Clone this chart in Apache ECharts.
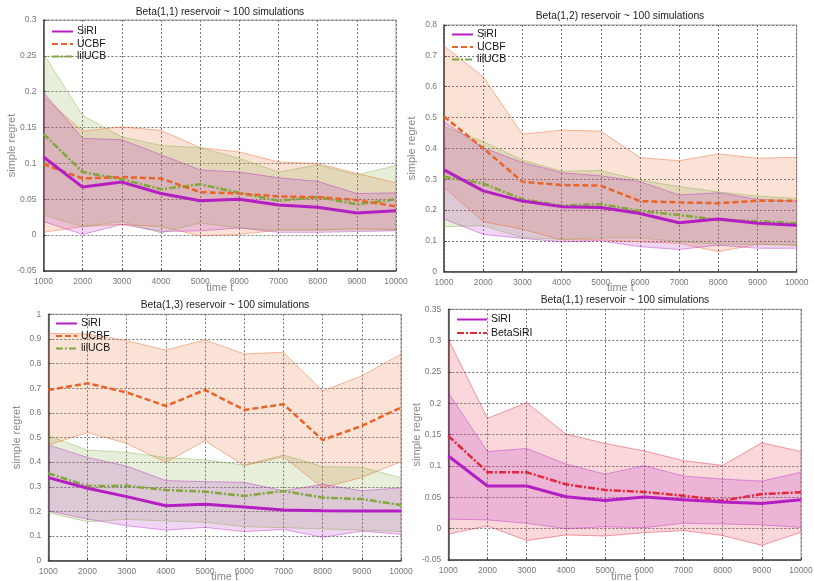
<!DOCTYPE html>
<html><head><meta charset="utf-8">
<script src="https://cdn.jsdelivr.net/npm/echarts@6/dist/echarts.min.js"></script>
<style>html,body{margin:0;padding:0;background:#fff}#c{width:814px;height:581px}</style>
</head><body><div id="c"></div>
<script>
const timeTicks = ['1000','2000','3000','4000','5000','6000','7000','8000','9000','10000'];

// Panel 1: Beta(1,1)
const p1_siri_mean = [0.109,0.067,0.074,0.058,0.048,0.050,0.042,0.039,0.031,0.034];
const p1_siri_hi   = [0.199,0.135,0.133,0.112,0.091,0.088,0.080,0.075,0.058,0.059];
const p1_siri_lo   = [0.019,0.001,0.015,0.005,0.006,0.010,0.004,0.004,0.005,0.006];
const p1_ucbf_mean = [0.099,0.079,0.081,0.079,0.060,0.058,0.054,0.053,0.049,0.040];
const p1_ucbf_hi   = [0.193,0.145,0.151,0.146,0.122,0.116,0.102,0.100,0.086,0.073];
const p1_ucbf_lo   = [0.004,0.012,0.015,0.012,-0.001,0.001,0.007,0.007,0.009,0.008];
const p1_lil_mean  = [0.141,0.088,0.078,0.064,0.071,0.059,0.048,0.053,0.043,0.050];
const p1_lil_hi    = [0.253,0.167,0.137,0.125,0.122,0.107,0.088,0.098,0.084,0.097];
const p1_lil_lo    = [0.028,0.012,0.019,0.003,0.017,0.010,0.007,0.007,0.007,0.007];

// Panel 2: Beta(1,2)
const p2_siri_mean = [0.330,0.262,0.229,0.211,0.208,0.189,0.159,0.171,0.157,0.151];
const p2_siri_hi   = [0.486,0.402,0.354,0.321,0.311,0.292,0.249,0.256,0.235,0.229];
const p2_siri_lo   = [0.171,0.121,0.108,0.097,0.100,0.081,0.072,0.086,0.076,0.076];
const p2_ucbf_mean = [0.503,0.400,0.292,0.281,0.279,0.229,0.225,0.222,0.230,0.230];
const p2_ucbf_hi   = [0.732,0.632,0.446,0.459,0.456,0.370,0.360,0.382,0.368,0.371];
const p2_ucbf_lo   = [0.274,0.162,0.138,0.103,0.103,0.097,0.092,0.065,0.089,0.086];
const p2_lil_mean  = [0.308,0.286,0.235,0.214,0.219,0.197,0.184,0.168,0.164,0.157];
const p2_lil_hi    = [0.470,0.422,0.362,0.326,0.328,0.297,0.276,0.259,0.245,0.238];
const p2_lil_lo    = [0.146,0.149,0.111,0.105,0.110,0.110,0.097,0.089,0.089,0.086];

// Panel 3: Beta(1,3)
const p3_siri_mean = [0.337,0.294,0.260,0.223,0.229,0.218,0.206,0.203,0.202,0.202];
const p3_siri_hi   = [0.470,0.419,0.384,0.325,0.321,0.318,0.284,0.310,0.284,0.296];
const p3_siri_lo   = [0.202,0.169,0.142,0.124,0.135,0.118,0.127,0.095,0.120,0.107];
const p3_ucbf_mean = [0.693,0.720,0.683,0.628,0.693,0.612,0.635,0.490,0.547,0.622];
const p3_ucbf_hi   = [0.923,0.920,0.893,0.855,0.896,0.839,0.846,0.689,0.750,0.838];
const p3_ucbf_lo   = [0.470,0.520,0.476,0.399,0.487,0.386,0.422,0.296,0.338,0.402];
const p3_lil_mean  = [0.355,0.303,0.304,0.287,0.280,0.263,0.283,0.256,0.250,0.226];
const p3_lil_hi    = [0.507,0.449,0.440,0.419,0.409,0.388,0.429,0.382,0.379,0.337];
const p3_lil_lo    = [0.195,0.158,0.168,0.161,0.156,0.138,0.134,0.129,0.124,0.118];

// Panel 4: Beta(1,1) SiRI vs BetaSiRI
const p4_siri_mean = [0.116,0.068,0.068,0.051,0.045,0.0505,0.046,0.0425,0.040,0.046];
const p4_siri_hi   = [0.217,0.123,0.128,0.103,0.087,0.1005,0.084,0.079,0.076,0.090];
const p4_siri_lo   = [0.015,0.014,0.0085,0.0,0.003,0.0016,0.0085,0.0074,0.006,0.002];
const p4_beta_mean = [0.148,0.090,0.090,0.0707,0.0617,0.0585,0.0527,0.0447,0.0553,0.058];
const p4_beta_hi   = [0.302,0.176,0.201,0.151,0.136,0.124,0.1085,0.101,0.137,0.123];
const p4_beta_lo   = [-0.0085,0.0043,-0.019,-0.010,-0.0117,-0.0064,-0.003,-0.011,-0.0266,-0.0058];

const titles = ['Beta(1,1) reservoir ~ 100 simulations','Beta(1,2) reservoir ~ 100 simulations',
                'Beta(1,3) reservoir ~ 100 simulations','Beta(1,1) reservoir ~ 100 simulations'];

const C = {SiRI:'#b41ec3', UCBF:'#e8652a', lilUCB:'#80a83c', BetaSiRI:'#e2283c'};
const EDGE = {SiRI:'rgba(180,30,195,0.4)', UCBF:'rgba(232,101,42,0.45)', lilUCB:'rgba(128,168,60,0.4)', BetaSiRI:'rgba(226,40,60,0.45)'};
const STYLE = {SiRI:'solid', UCBF:[6,3], lilUCB:[7,2,2,2], BetaSiRI:[7,2,2,2]};
const WIDTH = {SiRI:3, UCBF:2.5, lilUCB:2.5, BetaSiRI:2.5};

const font = 'Liberation Sans, Arial, Helvetica, sans-serif';
const grids = [
  {left:43.5, top:20, width:352.5, height:251},
  {left:444, top:25, width:352.7, height:246.7},
  {left:48.3, top:314.3, width:352.7, height:246.4},
  {left:448.3, top:309.3, width:352.7, height:250.7}
];
const yRanges = [[-0.05,0.3,0.05],[0,0.8,0.1],[0,1,0.1],[-0.05,0.35,0.05]];

const series = [];
function band(g, key, lo, hi){
  const st = 'b'+g+key;
  series.push({type:'line', name:key+' lower', xAxisIndex:g, yAxisIndex:g, stack:st, stackStrategy:'all',
    data:lo, symbol:'none', silent:true, z:1,
    lineStyle:{color:EDGE[key], width:1}});
  series.push({type:'line', name:key+' upper', xAxisIndex:g, yAxisIndex:g, stack:st, stackStrategy:'all',
    data:hi.map((v,i)=>v-lo[i]), symbol:'none', silent:true, z:1,
    lineStyle:{color:EDGE[key], width:1},
    areaStyle:{color:C[key], opacity:0.19}});
}
function mean(g, key, m){
  series.push({type:'line', name:key, xAxisIndex:g, yAxisIndex:g, data:m, symbol:'none', z:5,
    itemStyle:{color:C[key]},
    lineStyle:{color:C[key], width:WIDTH[key], type:STYLE[key]}});
}
band(0,'UCBF',p1_ucbf_lo,p1_ucbf_hi); band(0,'lilUCB',p1_lil_lo,p1_lil_hi); band(0,'SiRI',p1_siri_lo,p1_siri_hi);
mean(0,'lilUCB',p1_lil_mean); mean(0,'UCBF',p1_ucbf_mean); mean(0,'SiRI',p1_siri_mean);
band(1,'UCBF',p2_ucbf_lo,p2_ucbf_hi); band(1,'lilUCB',p2_lil_lo,p2_lil_hi); band(1,'SiRI',p2_siri_lo,p2_siri_hi);
mean(1,'lilUCB',p2_lil_mean); mean(1,'UCBF',p2_ucbf_mean); mean(1,'SiRI',p2_siri_mean);
band(2,'UCBF',p3_ucbf_lo,p3_ucbf_hi); band(2,'lilUCB',p3_lil_lo,p3_lil_hi); band(2,'SiRI',p3_siri_lo,p3_siri_hi);
mean(2,'lilUCB',p3_lil_mean); mean(2,'UCBF',p3_ucbf_mean); mean(2,'SiRI',p3_siri_mean);
band(3,'BetaSiRI',p4_beta_lo,p4_beta_hi); band(3,'SiRI',p4_siri_lo,p4_siri_hi);
mean(3,'BetaSiRI',p4_beta_mean); mean(3,'SiRI',p4_siri_mean);

const titlePos = [[220,7.5],[620,11.5],[225,300.5],[625,295.5]];
const legendPos = [[51,26],[451,29],[55,318],[456,314]];
const legendData = [['SiRI','UCBF','lilUCB'],['SiRI','UCBF','lilUCB'],['SiRI','UCBF','lilUCB'],['SiRI','BetaSiRI']];
const yNameGap = [26,26.5,26,26];

const option = {
  animation:false,
  textStyle:{fontFamily:font},
  title: titles.map((t,i)=>({text:t, left:titlePos[i][0], top:titlePos[i][1], textAlign:'center', padding:0,
    textStyle:{fontSize:10.3, fontWeight:'normal', color:'#222', fontFamily:font}})),
  legend: legendData.map((d,i)=>({data:d, orient:'vertical', left:legendPos[i][0], top:legendPos[i][1], padding:0,
    itemWidth: i===3?30:21, itemHeight:10, itemGap: i===3?2.5:1.5,
    itemStyle:{color:'transparent', borderWidth:0, opacity:0},
    textStyle:{fontSize:10.5, color:'#111', fontFamily:font, padding:[0,0,0,-1]},
    selectedMode:false})),
  grid: grids.map(g=>Object.assign({show:true, borderColor:'#999', borderWidth:1, outerBoundsMode:'none', containLabel:false}, g)),
  xAxis: grids.map((g,i)=>({type:'category', gridIndex:i, data:timeTicks, boundaryGap:false,
    name:'time t', nameLocation:'middle', nameGap:11, nameMoveOverlap:false,
    nameTextStyle:{color:'#888', fontSize:11},
    axisLine:{onZero:false, lineStyle:{color:'#444', width:1.5}},
    axisTick:{inside:true, length:3, lineStyle:{color:'#444'}},
    axisLabel:{color:'#777', fontSize:8.5, margin:6, showMinLabel:true, showMaxLabel:true, interval:0, hideOverlap:false},
    splitLine:{show:true, lineStyle:{color:'#777', type:[2,2], width:1}}})),
  yAxis: grids.map((g,i)=>({type:'value', gridIndex:i, min:yRanges[i][0], max:yRanges[i][1], interval:yRanges[i][2],
    name:'simple regret', nameLocation:'middle', nameGap:yNameGap[i], nameMoveOverlap:false,
    nameTextStyle:{color:'#888', fontSize:11},
    axisLine:{show:true, onZero:false, lineStyle:{color:'#444', width:1.5}},
    axisTick:{show:true, inside:true, length:3, lineStyle:{color:'#444'}},
    axisLabel:{color:'#777', fontSize:8.5, margin:7},
    splitLine:{show:true, lineStyle:{color:'#777', type:[2,2], width:1}}})),
  series: series
};
echarts.init(document.getElementById('c'),null,{renderer:'canvas'}).setOption(option);
</script></body></html>
